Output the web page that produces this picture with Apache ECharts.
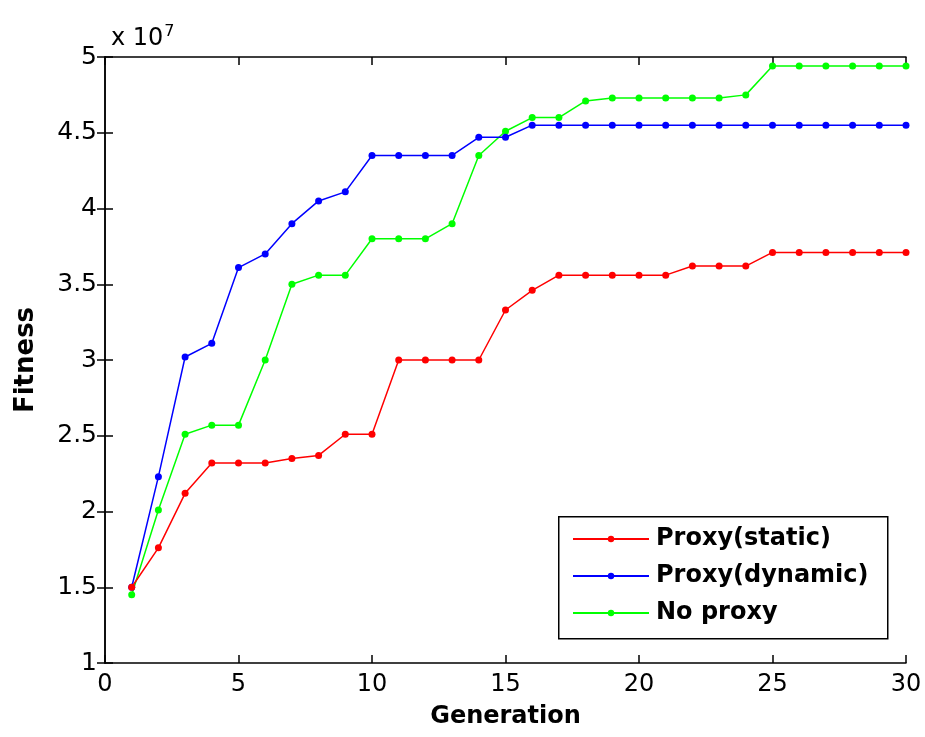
<!DOCTYPE html>
<html>
<head>
<meta charset="utf-8">
<script src="https://cdn.jsdelivr.net/npm/echarts@6/dist/echarts.min.js"></script>
<style>
html,body{margin:0;padding:0;background:#fff;}
#chart{width:925px;height:737px;}
</style>
</head>
<body>
<div id="chart"></div>
<script>
const generations = [1,2,3,4,5,6,7,8,9,10,11,12,13,14,15,16,17,18,19,20,21,22,23,24,25,26,27,28,29,30];
// Fitness values in units of 10^7
const proxyStatic = [1.50,1.76,2.12,2.32,2.32,2.32,2.35,2.37,2.51,2.51,3.00,3.00,3.00,3.00,3.33,3.46,3.56,3.56,3.56,3.56,3.56,3.62,3.62,3.62,3.71,3.71,3.71,3.71,3.71,3.71];
const proxyDynamic = [1.50,2.23,3.02,3.11,3.61,3.70,3.90,4.05,4.11,4.35,4.35,4.35,4.35,4.47,4.47,4.55,4.55,4.55,4.55,4.55,4.55,4.55,4.55,4.55,4.55,4.55,4.55,4.55,4.55,4.55];
const noProxy = [1.45,2.01,2.51,2.57,2.57,3.00,3.50,3.56,3.56,3.80,3.80,3.80,3.90,4.35,4.51,4.60,4.60,4.71,4.73,4.73,4.73,4.73,4.73,4.75,4.94,4.94,4.94,4.94,4.94,4.94];
const seriesNames = ['Proxy(static)','Proxy(dynamic)','No proxy'];
const seriesColors = ['#ff0000','#0000ff','#00ff00'];
const xTicks = [0,5,10,15,20,25,30];
const yTicks = [1,1.5,2,2.5,3,3.5,4,4.5,5];

const chart = echarts.init(document.getElementById('chart'));
const font = '"DejaVu Sans", Arial, sans-serif';
const seriesData = [proxyStatic, proxyDynamic, noProxy];
const series = seriesNames.map((n,i)=>({
  name:n, type:'line', xAxisIndex:0, yAxisIndex:0,
  data: generations.map((g,j)=>[g, seriesData[i][j]]),
  symbol:'circle', symbolSize:7, showSymbol:true,
  lineStyle:{color:seriesColors[i], width:1.5},
  itemStyle:{color:seriesColors[i]},
  animation:false, z:5-i
}));
const axisLineStyle = {show:true, lineStyle:{color:'#000', width:1.5}};
const tickStyle = {show:true, inside:true, length:8, lineStyle:{color:'#000', width:1.5}};
chart.setOption({
  backgroundColor:'#fff',
  animation:false,
  grid:{left:105, top:57, width:801, height:606, containLabel:false},
  title:{
    text:'x 10{s|7}',
    left:106, top:19,
    textStyle:{fontFamily:font, fontSize:24, fontWeight:'normal', color:'#000',
      rich:{s:{fontFamily:font, fontSize:16, color:'#000', verticalAlign:'top', padding:[0,0,14,1]}}}
  },
  graphic:[{
    type:'rect', left:558, top:516, z:10,
    shape:{width:329, height:122},
    style:{fill:'#fff', stroke:'#000', lineWidth:1.5}
  }],
  legend:{
    orient:'vertical', left:572, top:527, z:20,
    padding:0, itemGap:13,
    itemWidth:76, itemHeight:8,
    textStyle:{fontFamily:font, fontSize:24, fontWeight:'bold', color:'#000', lineHeight:24, padding:[0,0,0,2]},
    data:seriesNames
  },
  xAxis:[{
    type:'value', min:0, max:30, interval:5, position:'bottom',
    name:'Generation', nameLocation:'middle', nameGap:42,
    nameTextStyle:{fontFamily:font, fontSize:24, fontWeight:'bold', color:'#000'},
    axisLine:axisLineStyle, axisTick:tickStyle,
    axisLabel:{fontFamily:font, fontSize:24, color:'#000', margin:10,
      formatter:v=> xTicks.includes(v)? String(v):''},
    splitLine:{show:false}
  },{
    type:'value', min:0, max:30, interval:5, position:'top',
    axisLine:axisLineStyle, axisTick:tickStyle,
    axisLabel:{show:false}, splitLine:{show:false}
  }],
  yAxis:[{
    type:'value', min:1, max:5, interval:0.5, position:'left',
    name:'Fitness', nameLocation:'middle', nameGap:66, nameRotate:90,
    nameTextStyle:{fontFamily:font, fontSize:26, fontWeight:'bold', color:'#000'},
    axisLine:axisLineStyle, axisTick:tickStyle,
    axisLabel:{fontFamily:font, fontSize:25, color:'#000', margin:8,
      formatter:v=> yTicks.includes(v)? String(v):''},
    splitLine:{show:false}
  },{
    type:'value', min:1, max:5, interval:0.5, position:'right',
    axisLine:axisLineStyle, axisTick:tickStyle,
    axisLabel:{show:false}, splitLine:{show:false}
  }],
  series:series
});
</script>
</body>
</html>
